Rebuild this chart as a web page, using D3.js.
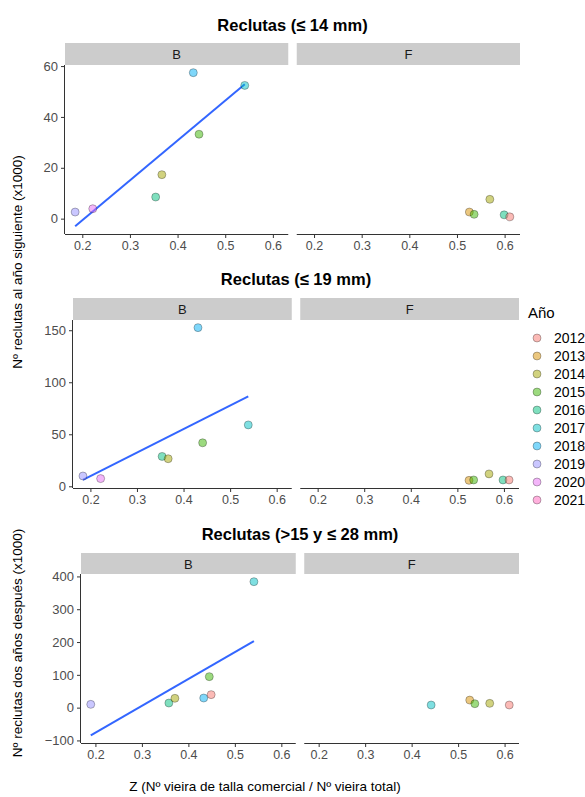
<!DOCTYPE html>
<html>
<head>
<meta charset="utf-8">
<script src="https://cdn.jsdelivr.net/npm/d3@7"></script>
<style>
  body { margin: 0; background: #fff; }
  svg { display: block; font-family: "Liberation Sans", Arial, sans-serif; }
</style>
</head>
<body>
<svg id="chart" width="585" height="797"></svg>
<script>
// --- data ---------------------------------------------------------------
var years = ["2012", "2013", "2014", "2015", "2016", "2017", "2018", "2019", "2020", "2021"];
var yearColors = ["#F8766D", "#D89000", "#A3A500", "#39B600", "#00BF7D",
                  "#00BFC4", "#00B0F6", "#9590FF", "#E76BF3", "#FF62BC"];

var xTicks = [0.2, 0.3, 0.4, 0.5, 0.6];

// Reclutas (<= 14 mm)
var r14B_year = ["2019", "2020", "2016", "2014", "2015", "2018", "2017"];
var r14B_z    = [0.185, 0.222, 0.354, 0.367, 0.445, 0.433, 0.541];
var r14B_n    = [2.6, 3.9, 8.5, 17.3, 33.2, 57.4, 52.4];
var r14F_year = ["2013", "2015", "2014", "2016", "2012"];
var r14F_z    = [0.526, 0.536, 0.569, 0.599, 0.611];
var r14F_n    = [2.6, 1.7, 7.6, 1.5, 0.7];
var r14_yTicks = [0, 20, 40, 60];

// Reclutas (<= 19 mm)
var r19B_year = ["2019", "2020", "2016", "2014", "2015", "2018", "2017"];
var r19B_z    = [0.184, 0.222, 0.354, 0.367, 0.441, 0.431, 0.539];
var r19B_n    = [9.9, 7.4, 28.7, 26.5, 41.8, 152.5, 59.0];
var r19F_year = ["2013", "2015", "2014", "2016", "2012"];
var r19F_z    = [0.525, 0.535, 0.568, 0.598, 0.611];
var r19F_n    = [5.7, 6.1, 11.9, 6.1, 6.1];
var r19_yTicks = [0, 50, 100, 150];

// Reclutas (>15 y <= 28 mm)
var r28B_year = ["2019", "2016", "2014", "2018", "2012", "2015", "2017"];
var r28B_z    = [0.190, 0.358, 0.371, 0.433, 0.449, 0.445, 0.541];
var r28B_n    = [10, 14, 28.4, 29.3, 39.6, 94.5, 384];
var r28F_year = ["2017", "2013", "2015", "2014", "2012"];
var r28F_z    = [0.442, 0.525, 0.536, 0.568, 0.610];
var r28F_n    = [8, 23, 12, 13, 8];
var r28_yTicks = [-100, 0, 100, 200, 300, 400];

// --- layout -------------------------------------------------------------
var rows = [
  {title: "Reclutas (\u2264 14 mm)", titleY: 31, left: 65, right: 520, stripTop: 43, top: 65, bottom: 234,
   B: {year: r14B_year, z: r14B_z, n: r14B_n}, F: {year: r14F_year, z: r14F_z, n: r14F_n}, yTicks: r14_yTicks},
  {title: "Reclutas (\u2264 19 mm)", titleY: 285, left: 73, right: 519, stripTop: 298, top: 320, bottom: 488,
   B: {year: r19B_year, z: r19B_z, n: r19B_n}, F: {year: r19F_year, z: r19F_z, n: r19F_n}, yTicks: r19_yTicks},
  {title: "Reclutas (>15 y \u2264 28 mm)", titleY: 540, left: 81, right: 519, stripTop: 553, top: 574, bottom: 743,
   B: {year: r28B_year, z: r28B_z, n: r28B_n}, F: {year: r28F_year, z: r28F_z, n: r28F_n}, yTicks: r28_yTicks}
];
var gap = 8.5;
var ptR = 4;

var svg = d3.select("#chart");
var color = d3.scaleOrdinal().domain(years).range(yearColors);

function toPoints(s) {
  return s.z.map(function(z, i) { return {z: z, n: s.n[i], year: s.year[i]}; });
}

// ordinary least squares, like geom_smooth(method = "lm")
function fitLine(pts) {
  var mz = d3.mean(pts, function(d) { return d.z; });
  var mn = d3.mean(pts, function(d) { return d.n; });
  var sxy = d3.sum(pts, function(d) { return (d.z - mz) * (d.n - mn); });
  var sxx = d3.sum(pts, function(d) { return (d.z - mz) * (d.z - mz); });
  var b = sxy / sxx, a = mn - b * mz;
  var ext = d3.extent(pts, function(d) { return d.z; });
  return ext.map(function(z) { return {z: z, n: a + b * z}; });
}

function expand(ext) {
  var pad = (ext[1] - ext[0]) * 0.05;
  return [ext[0] - pad, ext[1] + pad];
}

rows.forEach(function(row) {
  var ptsB = toPoints(row.B), ptsF = toPoints(row.F);
  var line = fitLine(ptsB);
  var all = ptsB.concat(ptsF);

  var panelW = (row.right - row.left - gap) / 2;
  var xDom = expand(d3.extent(all, function(d) { return d.z; }));
  var yDom = expand(d3.extent(all.concat(line), function(d) { return d.n; }));
  var y = d3.scaleLinear().domain(yDom).range([row.bottom, row.top]);

  svg.append("text")
    .attr("x", (row.left + row.right) / 2).attr("y", row.titleY)
    .attr("text-anchor", "middle").attr("font-size", 16.5).attr("font-weight", "bold")
    .attr("fill", "#000").text(row.title);

  [["B", ptsB, line], ["F", ptsF, null]].forEach(function(p, i) {
    var x0 = row.left + i * (panelW + gap);
    var x = d3.scaleLinear().domain(xDom).range([x0, x0 + panelW]);
    var g = svg.append("g");

    g.append("rect").attr("x", x0).attr("y", row.stripTop)
      .attr("width", panelW).attr("height", row.top - row.stripTop).attr("fill", "#cccccc");
    g.append("text").attr("x", x0 + panelW / 2).attr("y", row.stripTop + 16)
      .attr("text-anchor", "middle").attr("font-size", 13).attr("fill", "#1a1a1a").text(p[0]);

    var xa = g.append("g").attr("transform", "translate(0," + row.bottom + ")")
      .call(d3.axisBottom(x).tickValues(xTicks).tickSize(4).tickPadding(3).tickFormat(d3.format(".1f")));
    xa.select(".domain").attr("d", "M" + x0 + ",0.5H" + (x0 + panelW)).attr("stroke", "#333");

    if (i === 0) {
      var ya = g.append("g").attr("transform", "translate(" + x0 + ",0)")
        .call(d3.axisLeft(y).tickValues(row.yTicks).tickSize(4).tickPadding(3));
      ya.select(".domain").attr("d", "M-0.5," + row.top + "V" + row.bottom).attr("stroke", "#333");
      ya.selectAll("text").attr("font-size", 13).attr("fill", "#4d4d4d").attr("font-family", null);
      ya.selectAll(".tick line").attr("stroke", "#333");
    }
    xa.selectAll("text").attr("font-size", 12.5).attr("fill", "#4d4d4d").attr("font-family", null).attr("dy", "0.75em");
    xa.selectAll(".tick line").attr("stroke", "#333");

    if (p[2]) {
      g.append("path").datum(p[2])
        .attr("d", d3.line().x(function(d) { return x(d.z); }).y(function(d) { return y(d.n); }))
        .attr("fill", "none").attr("stroke", "#3366FF").attr("stroke-width", 2);
    }

    g.selectAll("circle.pt").data(p[1]).enter().append("circle")
      .attr("class", "pt")
      .attr("cx", function(d) { return x(d.z); })
      .attr("cy", function(d) { return y(d.n); })
      .attr("r", ptR)
      .attr("fill", function(d) { return color(d.year); }).attr("fill-opacity", 0.5)
      .attr("stroke", "#000").attr("stroke-opacity", 0.4).attr("stroke-width", 0.7);
  });
});

// axis titles
svg.append("text").attr("transform", "translate(22,262) rotate(-90)")
  .attr("text-anchor", "middle").attr("font-size", 13.5).attr("fill", "#000")
  .text("N\u00BA reclutas al a\u00F1o siguiente (x1000)");
svg.append("text").attr("transform", "translate(22,643) rotate(-90)")
  .attr("text-anchor", "middle").attr("font-size", 13.5).attr("fill", "#000")
  .text("N\u00BA reclutas dos a\u00F1os despu\u00E9s (x1000)");
svg.append("text").attr("x", 265).attr("y", 791)
  .attr("text-anchor", "middle").attr("font-size", 13.5).attr("fill", "#000")
  .text("Z (N\u00BA vieira de talla comercial / N\u00BA vieira total)");

// legend
var leg = svg.append("g");
leg.append("text").attr("x", 528).attr("y", 318).attr("font-size", 15).attr("fill", "#000").text("A\u00F1o");
var items = leg.selectAll("g.item").data(years).enter().append("g")
  .attr("transform", function(d, i) { return "translate(537," + (338 + i * 18) + ")"; });
items.append("circle").attr("r", ptR)
  .attr("fill", function(d) { return color(d); }).attr("fill-opacity", 0.5)
  .attr("stroke", "#000").attr("stroke-opacity", 0.4).attr("stroke-width", 0.7);
items.append("text").attr("x", 17).attr("y", 5).attr("font-size", 14).attr("fill", "#000")
  .text(function(d) { return d; });
</script>
</body>
</html>
